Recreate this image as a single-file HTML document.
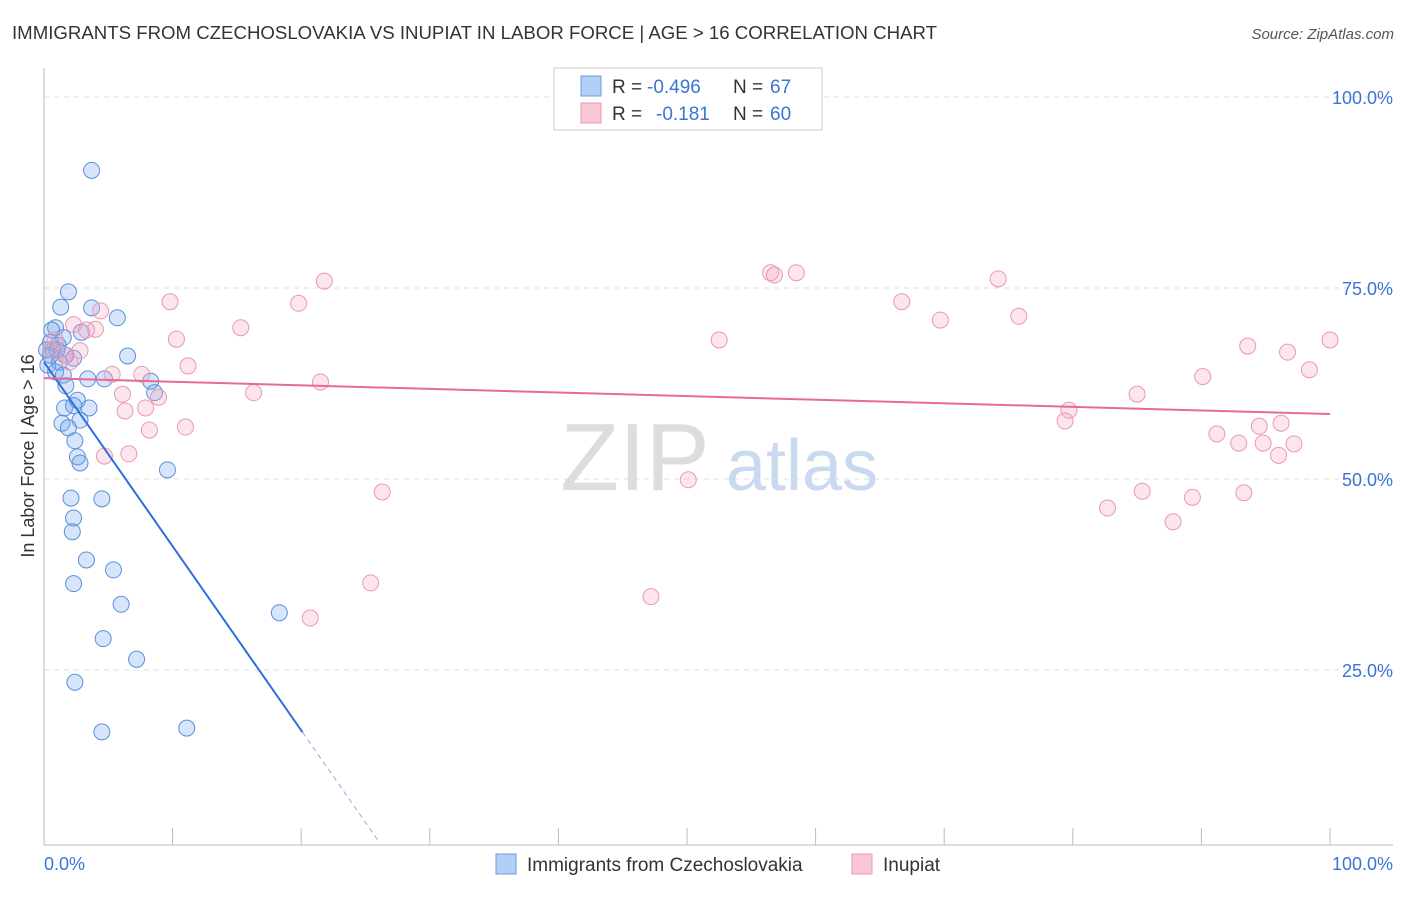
<!DOCTYPE html>
<html><head><meta charset="utf-8"><style>
body{margin:0;background:#fff;font-family:"Liberation Sans",sans-serif;}
svg text{font-family:"Liberation Sans",sans-serif;}
</style></head><body>
<svg id="c" width="1406" height="892" xmlns="http://www.w3.org/2000/svg">
<text x="12" y="39" font-size="18" fill="#333" textLength="925" lengthAdjust="spacingAndGlyphs">IMMIGRANTS FROM CZECHOSLOVAKIA VS INUPIAT IN LABOR FORCE | AGE &gt; 16 CORRELATION CHART</text>
<text x="1394" y="39" font-size="15" fill="#555" text-anchor="end" font-style="italic">Source: ZipAtlas.com</text>
<text x="0" y="0" transform="translate(34,456) rotate(-90)" font-size="18" fill="#333" text-anchor="middle">In Labor Force | Age &gt; 16</text>
<g><text x="635" y="490" font-size="96" fill="#ddd" font-family="Liberation Serif" text-anchor="middle">ZIP</text><text x="802" y="490" font-size="72" fill="#c9d9ef" text-anchor="middle">atlas</text></g>
<g id="grid"></g><g id="marks"></g>
<g>
<rect x="554" y="68" width="268" height="62" fill="#fff" stroke="#ccc"/>
<rect x="581" y="76" width="20" height="20" fill="#b3cff5" stroke="#6b9de0"/>
<rect x="581" y="103" width="20" height="20" fill="#f9c6d6" stroke="#e898b3"/>
<text x="612" y="93" font-size="19" fill="#333">R =</text>
<text x="647" y="93" font-size="19" fill="#3b74d6">-0.496</text>
<text x="733" y="93" font-size="19" fill="#333">N =</text>
<text x="770" y="93" font-size="19" fill="#3b74d6">67</text>
<text x="612" y="120" font-size="19" fill="#333">R =</text>
<text x="656" y="120" font-size="19" fill="#3b74d6">-0.181</text>
<text x="733" y="120" font-size="19" fill="#333">N =</text>
<text x="770" y="120" font-size="19" fill="#3b74d6">60</text>
</g>
<g>
<rect x="496" y="854" width="20" height="20" fill="#b3cff5" stroke="#6b9de0"/>
<text x="527" y="871" font-size="19" fill="#333">Immigrants from Czechoslovakia</text>
<rect x="852" y="854" width="20" height="20" fill="#f9c6d6" stroke="#e898b3"/>
<text x="883" y="871" font-size="19" fill="#333">Inupiat</text>
</g>
<text x="44" y="870" font-size="18" fill="#3b74d6">0.0%</text>
<text x="1393" y="870" font-size="18" fill="#3b74d6" text-anchor="end">100.0%</text>
</svg>
<script>
const yTicks=[100,75,50,25];
const yTickLabels=["100.0%","75.0%","50.0%","25.0%"];
const blueX=[3.7,1.9,3.7,5.7,1.3,6.5,0.9,2.9,1.5,0.5,1.1,0.7,1.7,2.3,1.2,0.3,0.9,1.5,3.4,4.7,8.3,8.6,1.7,2.6,1.6,3.5,2.3,1.4,2.8,1.9,2.4,2.6,2.8,9.6,2.1,4.5,2.3,2.2,3.3,5.4,2.3,6.0,18.3,4.6,7.2,2.4,4.5,11.1,0.6,0.5,1.0,0.2];
const blueY=[90.4,74.5,72.4,71.1,72.5,66.1,69.8,69.2,68.5,67.9,67.5,66.9,66.2,65.8,65.3,64.9,64.0,63.6,63.1,63.1,62.8,61.3,62.2,60.3,59.3,59.3,59.6,57.3,57.7,56.7,55.0,52.9,52.1,51.2,47.5,47.4,44.9,43.1,39.4,38.1,36.3,33.6,32.5,29.1,26.4,23.4,16.9,17.4,69.5,66.2,66.9,66.9];
const pinkX=[21.8,9.8,19.8,4.4,15.3,2.3,4.0,3.3,10.3,2.8,11.2,5.3,7.6,21.5,6.1,16.3,8.9,6.3,7.9,8.2,11.0,4.7,6.6,26.3,25.4,20.7,47.2,50.1,52.5,56.5,56.8,58.5,66.7,69.7,74.2,75.8,79.7,79.4,82.7,85.0,85.4,87.8,89.3,90.1,91.2,93.3,92.9,93.6,94.5,94.8,96.2,96.0,96.7,97.2,98.4,100.0,0.9,1.6,0.5,2.0];
const pinkY=[75.9,73.2,73.0,72.0,69.8,70.2,69.6,69.5,68.3,66.8,64.8,63.7,63.7,62.7,61.1,61.3,60.7,58.9,59.3,56.4,56.8,53.0,53.3,48.3,36.4,31.8,34.6,49.9,68.2,77.0,76.7,77.0,73.2,70.8,76.2,71.3,59.0,57.6,46.2,61.1,48.4,44.4,47.6,63.4,55.9,48.2,54.7,67.4,56.9,54.7,57.3,53.1,66.6,54.6,64.3,68.2,68.2,66.2,66.9,65.3];
const blueTrend=[65.3,-2.41];const pinkTrend=[63.2,-0.047];
const X=v=>44+v*12.86, Y=v=>861-v*7.64;
const NS="http://www.w3.org/2000/svg";
function mk(t,a,p){const e=document.createElementNS(NS,t);for(const k in a)e.setAttribute(k,a[k]);p.appendChild(e);return e;}
const g=document.getElementById('grid'),m=document.getElementById('marks');
yTicks.forEach((t,i)=>{
 const l=mk('line',{x1:44,x2:1393,y1:Y(t),y2:Y(t),stroke:'#ddd','stroke-dasharray':'5,5'},g);
 
 
 const tx=mk('text',{x:1393,y:Y(t)+7,'font-size':18,fill:'#3b74d6','text-anchor':'end'},g);
 tx.textContent=yTickLabels[i];
 
 
});
mk('line',{x1:44,x2:44,y1:68,y2:845,stroke:'#bbb'},g);
mk('line',{x1:44,x2:1393,y1:845,y2:845,stroke:'#bbb'},g);
for(let i=0;i<=10;i++){const t=mk('line',{x1:X(i*10),x2:X(i*10),y1:828,y2:845,stroke:'#bbb'},g);
 
 }
blueX.forEach((x,i)=>{const c=mk('circle',{cx:X(x),cy:Y(blueY[i]),r:8,fill:'rgba(120,170,235,0.3)',stroke:'#5a90dc','stroke-width':1},m);
 
 });
pinkX.forEach((x,i)=>{const c=mk('circle',{cx:X(x),cy:Y(pinkY[i]),r:8,fill:'rgba(245,170,195,0.3)',stroke:'#eb97b4','stroke-width':1},m);
 
 });
const bt=x=>blueTrend[0]+blueTrend[1]*x, pt=x=>pinkTrend[0]+pinkTrend[1]*x;
const b1=mk('line',{x1:X(0),y1:Y(bt(0)),x2:X(20.1),y2:Y(bt(20.1)),stroke:'#2f6fdb','stroke-width':2},m);


const b2=mk('line',{x1:X(20.1),y1:Y(bt(20.1)),x2:X(26.1),y2:Y(bt(26.1)),stroke:'#8fb0e0','stroke-width':1,'stroke-dasharray':'5,4'},m);


const p1=mk('line',{x1:X(0),y1:Y(pt(0)),x2:X(100),y2:Y(pt(100)),stroke:'#e56a95','stroke-width':2},m);


</script>
</body></html>
